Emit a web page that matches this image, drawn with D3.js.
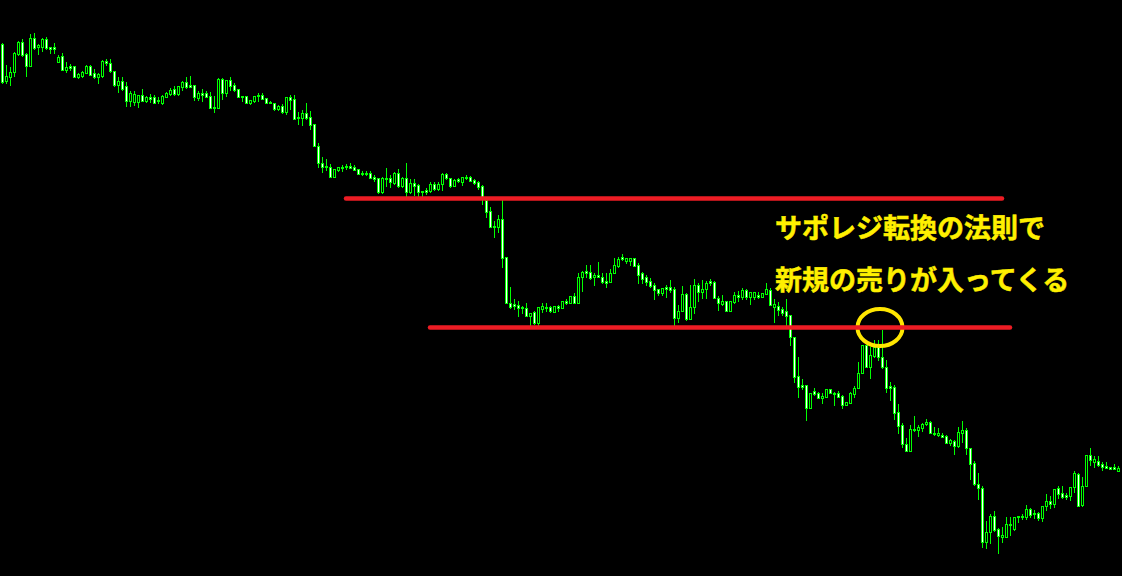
<!DOCTYPE html>
<html><head><meta charset="utf-8">
<script src="https://cdn.jsdelivr.net/npm/d3@7"></script>
<style>html,body{margin:0;padding:0;background:#000;overflow:hidden}</style>
</head><body>
<svg id="c" width="1122" height="576"></svg>
<script>
const open = [556,519,523,528,546,558,546,534,562,553,553,561,553,553,538,544,530,534,534,523,524,527,534,527,523,524,539,537,529,515,519,514,499,498,498,505,499,503,503,500,497,503,506,511,506,513,518,515,515,502,
507,507,504,493,492,521,507,520,515,511,504,504,497,499,505,505,502,498,497,491,494,488,503,501,483,482,487,483,476,454,437,434,433,423,430,433,434,434,433,431,427,427,427,423,422,408,422,422,417,427,
414,422,408,417,415,409,410,409,416,411,416,426,422,414,421,418,423,423,420,418,414,400,389,374,373,381,343,297,296,295,293,292,284,288,277,291,293,293,288,294,292,299,297,304,297,323,329,328,323,325,
323,319,318,327,334,343,339,339,342,335,327,323,319,315,311,307,313,313,311,282,289,306,281,293,315,308,311,319,318,302,296,299,289,298,305,303,310,303,303,305,303,306,310,293,294,291,289,285,263,224,
215,215,192,209,207,202,203,211,207,207,204,195,197,206,212,227,255,233,244,255,243,233,214,213,188,175,156,149,171,170,172,176,178,167,165,165,164,157,159,154,167,170,152,137,116,112,58,68,84,71,
63,63,76,71,84,84,83,91,87,87,82,94,99,96,112,107,105,104,113,126,95,114,145,138,139,136,134,133,133,129];
const high = [557,535,533,548,559,561,547,566,567,556,562,563,553,557,545,547,538,536,534,527,529,535,535,531,527,540,541,541,529,523,523,518,509,509,505,511,504,506,505,503,505,508,512,514,514,519,523,524,515,509,
511,509,508,504,522,522,520,523,517,511,504,504,500,504,507,507,502,499,497,495,496,503,505,505,488,490,497,489,476,457,443,441,436,431,433,435,436,437,435,431,429,429,429,425,422,423,432,425,428,431,
423,437,421,421,416,409,412,418,418,418,427,427,422,421,422,423,425,424,421,419,415,402,393,379,385,400,343,313,301,299,294,297,287,289,293,297,297,294,294,295,299,301,304,307,327,329,335,335,327,338,
327,327,331,342,343,346,342,342,342,337,328,325,322,317,311,312,315,320,313,295,314,307,315,321,317,320,319,321,319,304,305,299,299,308,309,312,311,308,308,308,307,317,312,301,298,293,301,285,263,243,
221,215,207,212,208,207,211,211,208,209,205,198,208,214,238,255,255,253,260,260,270,240,218,215,196,177,162,175,184,175,177,181,179,173,172,167,165,161,160,173,179,172,152,139,127,114,79,86,89,72,
73,83,83,83,84,86,95,92,90,88,94,106,104,111,114,114,107,113,129,127,123,145,152,144,144,138,138,133,136,134];
const low = [517,517,515,524,545,544,524,534,551,546,549,551,547,547,538,530,528,530,523,522,523,527,525,522,517,523,535,528,514,508,510,494,494,495,493,499,498,498,497,497,496,503,505,505,505,510,512,513,500,500,
499,503,492,488,492,501,504,510,509,503,499,497,496,498,499,501,497,497,490,490,487,486,491,481,476,475,481,471,454,433,428,430,423,423,429,429,431,432,430,426,425,425,422,419,407,407,414,413,416,413,
413,404,407,405,404,404,406,408,410,410,410,421,413,414,418,415,421,419,416,411,396,383,373,363,368,333,297,292,291,284,287,284,275,276,275,288,289,288,288,289,292,296,297,297,297,309,323,321,315,323,
317,313,318,327,333,340,337,335,334,317,317,315,313,301,305,305,303,308,275,278,289,280,281,287,299,302,302,315,302,290,295,289,289,297,299,301,301,296,301,302,303,306,295,278,285,285,275,255,218,203,
211,180,192,205,202,197,203,207,195,203,192,195,197,203,212,227,233,222,243,240,232,208,200,181,167,153,149,149,169,164,169,175,167,165,164,163,157,155,146,153,158,146,121,115,101,53,52,57,69,47,
58,63,65,70,78,81,81,83,82,80,79,90,92,93,102,102,101,100,108,94,94,114,135,133,134,130,132,131,131,129];
const close = [518,524,528,547,558,545,534,562,552,555,561,552,551,551,543,530,533,532,523,526,528,534,525,523,526,539,537,529,515,519,511,499,507,506,505,499,503,501,497,499,504,507,510,506,514,518,513,513,503,507,
505,503,492,492,521,507,520,514,510,503,503,497,500,504,504,501,497,497,491,494,488,503,500,481,482,487,482,475,454,437,433,433,423,431,433,432,433,432,430,426,426,426,422,421,408,422,421,418,427,414,
422,408,417,414,408,408,408,416,411,416,426,422,414,420,419,423,422,419,417,413,402,388,373,373,381,342,297,293,294,292,292,284,287,277,293,294,292,289,294,292,299,297,304,297,323,328,327,322,325,323,
318,317,327,335,341,341,342,342,334,325,321,318,314,310,307,312,311,310,282,289,306,281,293,315,308,311,317,317,302,297,299,289,299,305,303,310,303,308,308,303,307,311,295,296,290,287,284,263,223,213,
213,192,207,206,202,204,211,207,206,203,195,198,207,212,227,255,233,245,253,243,233,212,212,187,174,156,149,171,170,173,176,178,167,166,167,163,157,160,154,168,170,152,136,116,112,58,68,84,70,64,
65,76,75,83,83,83,91,85,86,82,94,99,96,111,106,103,103,113,127,94,114,145,140,141,135,133,132,131,131,132];

const lines = [ {from: 86, to: 250, level: 401.5}, {from: 107, to: 252, level: 272.5} ];
const labels = ["サポレジ転換の法則で", "新規の売りが入ってくる"];
const focus = {index: 220, level: 272.5};

const W = 1122, H = 576;
const svg = d3.select("#c");
svg.append("rect").attr("width", W).attr("height", H).attr("fill", "#000");
const n = open.length;
const x = d3.scaleBand().domain(d3.range(n)).range([0, 4 * n]);
const y = d3.scaleLinear().domain([24, 600]).range([H, 0]);
const data = d3.range(n).map(i => ({i, o: open[i], h: high[i], l: low[i], c: close[i]}));

const g = svg.append("g").attr("shape-rendering", "crispEdges");
const cs = g.selectAll("g").data(data).join("g");
cs.append("rect").attr("x", d => x(d.i) + 2).attr("width", 1)
  .attr("y", d => Math.round(y(d.h))).attr("height", d => Math.round(y(d.l)) - Math.round(y(d.h)) + 1)
  .attr("fill", "#00ff00");
cs.append("rect").attr("x", d => x(d.i) + 1).attr("width", 3)
  .attr("y", d => Math.round(y(Math.max(d.o, d.c))))
  .attr("height", d => Math.round(y(Math.min(d.o, d.c))) - Math.round(y(Math.max(d.o, d.c))) + 1)
  .attr("fill", "#00ff00");
cs.filter(d => Math.round(y(Math.min(d.o, d.c))) - Math.round(y(Math.max(d.o, d.c))) > 1)
  .append("rect").attr("x", d => x(d.i) + 2).attr("width", 1)
  .attr("y", d => Math.round(y(Math.max(d.o, d.c))) + 1)
  .attr("height", d => Math.round(y(Math.min(d.o, d.c))) - Math.round(y(Math.max(d.o, d.c))) - 1)
  .attr("fill", d => d.c < d.o ? "#ffffff" : "#000000");

// focus ellipse
svg.append("ellipse")
  .attr("cx", x(focus.index) + 0)
  .attr("cy", y(focus.level))
  .attr("rx", 22.5).attr("ry", 18.5)
  .attr("fill", "none").attr("stroke", "#ffe600").attr("stroke-width", 4);

// red horizontal lines
svg.selectAll("line.lv").data(lines).join("line").attr("class", "lv")
  .attr("x1", d => x(d.from) + 2).attr("x2", d => x(d.to) + 2)
  .attr("y1", d => y(d.level)).attr("y2", d => y(d.level))
  .attr("stroke", "#ed1c24").attr("stroke-width", 4.5).attr("stroke-linecap", "round");

svg.selectAll("text.lb").data(labels).join("text").attr("class", "lb")
  .attr("x", 775).attr("y", (d, i) => 238 + i * 52)
  .attr("fill", "#fff000").attr("stroke", "#fff000").attr("stroke-width", 0.5)
  .attr("font-family", "'Noto Sans CJK JP', sans-serif")
  .attr("font-weight", "bold").attr("font-size", "27px")
  .text(d => d);
</script>
</body></html>
